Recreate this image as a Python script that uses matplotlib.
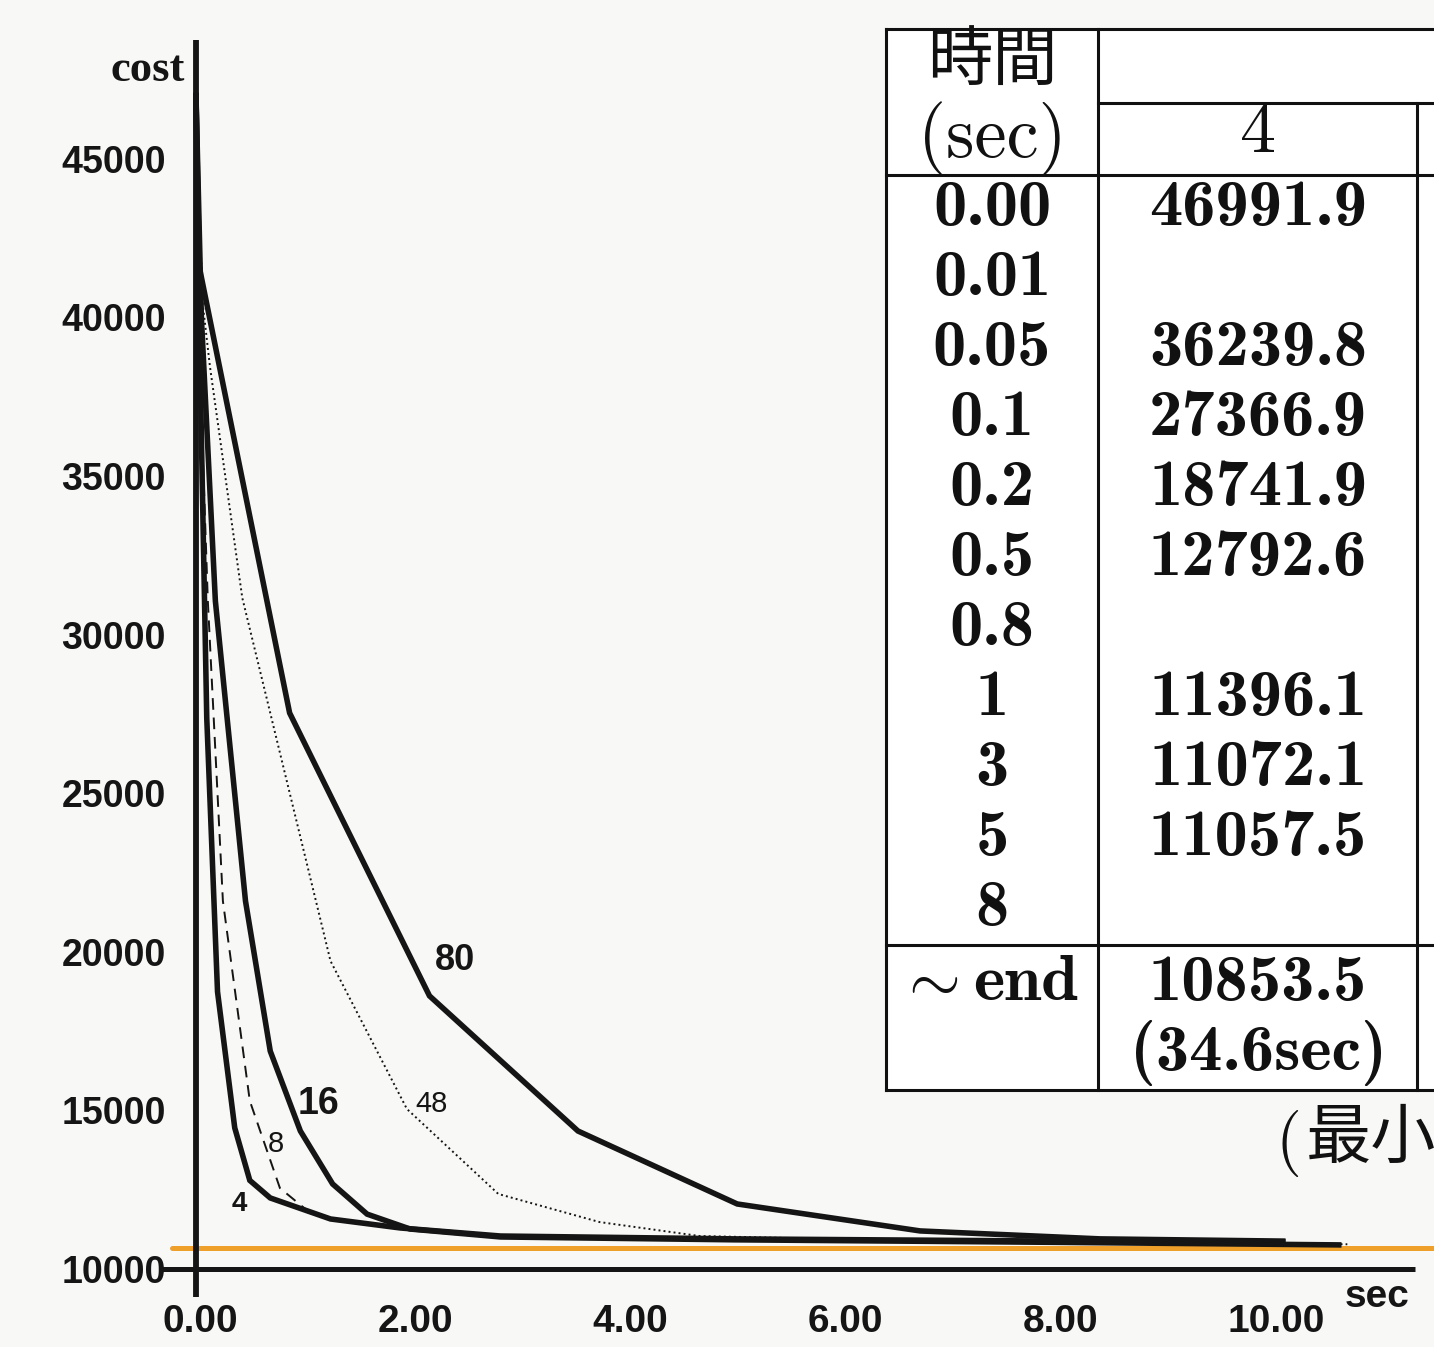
import matplotlib
matplotlib.use('Agg')
import matplotlib.pyplot as plt
from matplotlib.patches import Rectangle
from matplotlib.transforms import ScaledTranslation

plt.rcParams['mathtext.fontset'] = 'cm'

# ---------------- data ----------------
t4 = [0.0, 0.05, 0.10, 0.20, 0.36, 0.50, 0.69, 1.25, 1.90, 2.83, 5.0, 8.0, 10.10]
c4 = [46991.9, 36239.8, 27366.9, 18741.9, 14450, 12793, 12240, 11577, 11293, 11040, 10950, 10880, 10853.5]
t8 = [0.0, 0.04, 0.11, 0.25, 0.50, 0.78, 1.06, 1.30, 1.90, 2.83, 5.0, 8.0, 10.62]
c8 = [46991.9, 38000, 31060, 21600, 15300, 12550, 11770, 11550, 11300, 11045, 10940, 10860, 10770]
t16 = [0.0, 0.05, 0.18, 0.46, 0.69, 0.97, 1.27, 1.59, 1.99, 2.83, 5.0, 8.0, 10.62]
c16 = [46991.9, 40000, 31060, 21600, 16870, 14350, 12680, 11730, 11260, 11010, 10920, 10840, 10760]
t48 = [0.0, 0.06, 0.13, 0.43, 1.25, 1.96, 2.81, 3.75, 4.68, 6.5, 8.5, 10.70]
c48 = [46991.9, 40500, 38440, 31160, 19710, 15045, 12365, 11480, 11040, 10900, 10820, 10780]
t80 = [0.0, 0.03, 0.87, 2.17, 3.55, 5.03, 6.73, 8.40, 10.10]
c80 = [46991.9, 41600, 27530, 18610, 14350, 12050, 11200, 10950, 10880]
best_cost = 10660

y_ticks = [10000, 15000, 20000, 25000, 30000, 35000, 40000, 45000]
x_ticks = [0, 2, 4, 6, 8, 10]
x_ticklabels = ['0.00', '2.00', '4.00', '6.00', '8.00', '10.00']

table_times = ['0.00', '0.01', '0.05', '0.1', '0.2', '0.5', '0.8', '1', '3', '5', '8']
table_cost4 = ['46991.9', '', '36239.8', '27366.9', '18741.9', '12792.6', '', '11396.1',
               '11072.1', '11057.5', '']
end_cost4 = '10853.5'
end_time4 = '34.6sec'

# ---------------- figure ----------------
W, H = 1434, 1347
fig = plt.figure(figsize=(W / 100, H / 100), dpi=100, facecolor='#f8f8f6')

x0px, xs = 196, 107.6          # px of t=0, px per second
y0px, ys = 1269, 0.03172       # px of cost=10000, px per cost unit
L, R, T, B = 160, W, 40, 1297
xlim = ((L - x0px) / xs, (R - x0px) / xs)
ylim = (10000 - (B - y0px) / ys, 10000 + (y0px - T) / ys)

ax = fig.add_axes([L / W, (H - B) / H, (R - L) / W, (B - T) / H])
ax.set_facecolor('none')
ax.set_xlim(*xlim)
ax.set_ylim(*ylim)
for s in ax.spines.values():
    s.set_visible(False)

ink = '#151515'
sans_bold = dict(family='Liberation Sans', weight='bold')
ax.set_yticks(y_ticks)
ax.set_yticklabels([str(v) for v in y_ticks], fontsize=27, **sans_bold, color=ink)
ax.set_xticks(x_ticks)
ax.set_xticklabels(x_ticklabels, fontsize=28, **sans_bold, color=ink)
ax.tick_params(axis='y', length=0, pad=-4)
ax.tick_params(axis='x', length=0, pad=5)
off = ScaledTranslation(4 / 100, 0, fig.dpi_scale_trans)
for lab in ax.get_xticklabels():
    lab.set_transform(lab.get_transform() + off)

# axes lines
ax.plot([0, 0], [ylim[0], ylim[1]], color=ink, lw=4.2, solid_capstyle='butt', zorder=3)
ax.plot([xlim[0], (1415 - x0px) / xs], [10000, 10000], color=ink, lw=3.6,
        solid_capstyle='butt', zorder=3)

# best-cost line (orange)
ax.plot([(172 - x0px) / xs, xlim[1]], [best_cost, best_cost], color='#efa02a', lw=3.6,
        solid_capstyle='round', zorder=1)

# curves
ax.plot(t80, c80, color=ink, lw=4.0, zorder=4, solid_joinstyle='miter')
ax.plot(t48, c48, color=ink, lw=1.4, ls=(0, (1, 1.6)), zorder=4)
ax.plot(t16, c16, color=ink, lw=4.0, zorder=4, solid_joinstyle='miter')
ax.plot(t8, c8, color=ink, lw=1.4, ls=(0, (6, 4)), zorder=4)
ax.plot(t4, c4, color=ink, lw=4.0, zorder=4, solid_joinstyle='miter')

# curve labels
ax.text(2.41, 19711, '80', fontsize=26, ha='center', va='center', color=ink, **sans_bold)
ax.text(1.14, 15203, '16', fontsize=27, ha='center', va='center', color=ink, **sans_bold)
ax.text(2.19, 15203, '48', fontsize=21, ha='center', va='center', color=ink,
        family='Liberation Sans')
ax.text(0.74, 13941, '8', fontsize=21, ha='center', va='center', color=ink,
        family='Liberation Sans')
ax.text(0.40, 12049, '4', fontsize=20, ha='center', va='center', color=ink, **sans_bold)

# ---------------- overlay (pixel coords) ----------------
ov = fig.add_axes([0, 0, 1, 1], zorder=10)
ov.set_xlim(0, W)
ov.set_ylim(H, 0)
ov.axis('off')
ov.set_facecolor('none')

ov.text(185, 70, 'cost', fontsize=32, family='Liberation Serif', weight='bold',
        ha='right', va='center', color=ink)
ov.text(1377, 1297, 'sec', fontsize=28, ha='center', va='center', color=ink, **sans_bold)

# table
tl, tt, tb = 886, 29, 1090
c1, c2 = 1098, 1417
ov.add_patch(Rectangle((tl, tt), W - tl + 5, tb - tt, facecolor='white', edgecolor='none', zorder=1))
kw = dict(color='#111111', lw=2.2, solid_capstyle='projecting', zorder=2)
ov.plot([tl, W + 5], [tt, tt], **kw)
ov.plot([tl, tl], [tt, tb], **kw)
ov.plot([c1, c1], [tt, tb], **kw)
ov.plot([c1, W + 5], [103, 103], **kw)
ov.plot([c2, c2], [103, tb], **kw)
ov.plot([tl, W + 5], [175, 175], **kw)
ov.plot([tl, W + 5], [945, 945], **kw)
ov.plot([tl, W + 5], [tb, tb], **kw)

col1x, col2x = 992, 1258
fs = 48
tk = '#111111'
cjk = ['Noto Sans CJK JP', 'DejaVu Sans']
ov.text(col1x, 62, '時間', fontsize=47, family=cjk, ha='center', va='center', color=tk)
ov.text(col1x, 157, '(sec)', fontsize=52, family='cmr10', ha='center', va='baseline', color=tk)
ov.text(col2x, 152, '4', fontsize=52, family='cmr10', ha='center', va='baseline', color=tk)

for i, (tm, cv) in enumerate(zip(table_times, table_cost4)):
    yb = 225 + 70 * i
    ov.text(col1x, yb, tm, fontsize=fs, family='cmb10', ha='center', va='baseline', color=tk)
    if cv:
        ov.text(col2x, yb, cv, fontsize=fs, family='cmb10', ha='center', va='baseline', color=tk)

ov.text(928, 1000, r'$\boldsymbol{\sim}$', fontsize=fs, ha='center', va='baseline', color=tk)
ov.text(1026, 1000, 'end', fontsize=fs, family='cmb10', ha='center', va='baseline', color=tk)
ov.text(col2x, 1000, end_cost4, fontsize=fs, family='cmb10', ha='center', va='baseline', color=tk)
ov.text(col2x, 1070, '(%s)' % end_time4, fontsize=fs, family='cmb10', ha='center',
        va='baseline', color=tk)

ov.text(1276, 1160, '(', fontsize=48, family='cmr10', ha='left', va='baseline', color=tk)
ov.text(1306, 1140, '最小', fontsize=47, family=cjk, ha='left', va='center', color=tk)

fig.savefig('out.png', dpi=100, facecolor=fig.get_facecolor())
